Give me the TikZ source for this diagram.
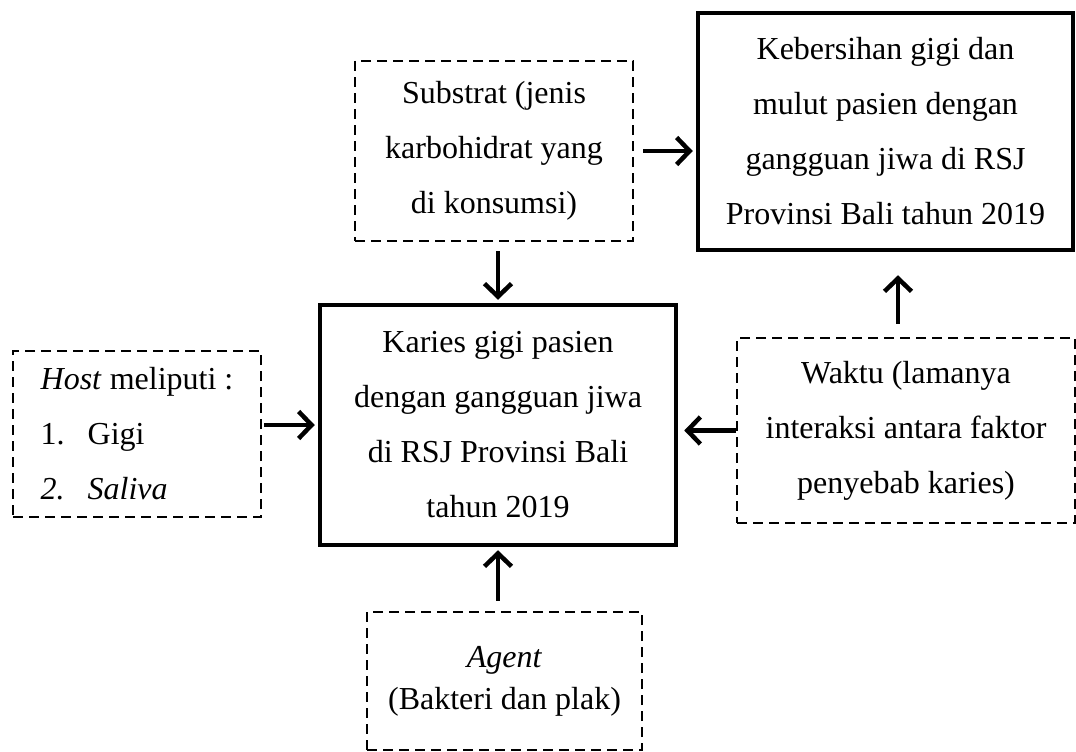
\documentclass[tikz,border=0pt]{standalone}
\usepackage{fontspec}
\setmainfont{Liberation Serif}
\usepackage{tikz}
\usetikzlibrary{positioning}
\usetikzlibrary{%
  calc,%
  arrows.meta%
}

\begin{document}
\begin{tikzpicture}[x=1pt,y=-1pt,
  txt/.style={font=\fontsize{32}{55}\selectfont, align=center, inner sep=0pt},
  dbox/.style={txt, draw, line width=2.2pt, dash pattern=on 10pt off 6pt},
  sbox/.style={txt, draw, line width=4.5pt},
  arr/.style={line width=4.5pt, -{Straight Barb[length=13pt,width=27pt]}}]
\useasboundingbox (0,0) rectangle (1076,752);

\node[dbox, minimum width=278pt, minimum height=180pt] (subs) at (494,151)
  {Substrat (jenis\\karbohidrat yang\\di konsumsi)};
\node[sbox, minimum width=375pt, minimum height=237pt] (keb) at (885.5,131.5)
  {Kebersihan gigi dan\\mulut pasien dengan\\gangguan jiwa di RSJ\\Provinsi Bali tahun 2019};
\node[sbox, minimum width=356pt, minimum height=240pt] (kar) at (498,425)
  {Karies gigi pasien\\dengan gangguan jiwa\\di RSJ Provinsi Bali\\tahun 2019};
\node[dbox, align=left, minimum width=248pt, minimum height=166pt] (host) at (137,434)
  {\textit{Host} meliputi :\\\makebox[47pt][l]{1.}Gigi\\\makebox[47pt][l]{\textit{2.}}\textit{Saliva}};
\node[dbox, minimum width=338pt, minimum height=185pt] (waktu) at (906,430.5)
  {Waktu (lamanya\\interaksi antara faktor\\penyebab karies)};
\node[dbox, font=\fontsize{32}{42}\selectfont, minimum width=275pt, minimum height=138pt] (agent) at (504.5,681)
  {\textit{Agent}\\(Bakteri dan plak)};

\path [arr] (subs.east) edge[shorten <=9pt, shorten >=3pt] (subs.east -| keb.west)
            (kar.north |- subs.south) edge[shorten <=9pt, shorten >=3pt] (kar.north)
            (host.east |- kar.west) edge[shorten <=2pt, shorten >=3pt] (kar.west)
            (waktu.west) edge[shorten >=6pt] (waktu.west -| kar.east)
            ([xshift=-8pt]waktu.north) edge[shorten <=13pt, shorten >=23pt] ([xshift=-8pt]waktu.north |- keb.south)
            (kar.south |- agent.north) edge[shorten <=10pt, shorten >=3pt] (kar.south)
            ;
\end{tikzpicture}
\end{document}
